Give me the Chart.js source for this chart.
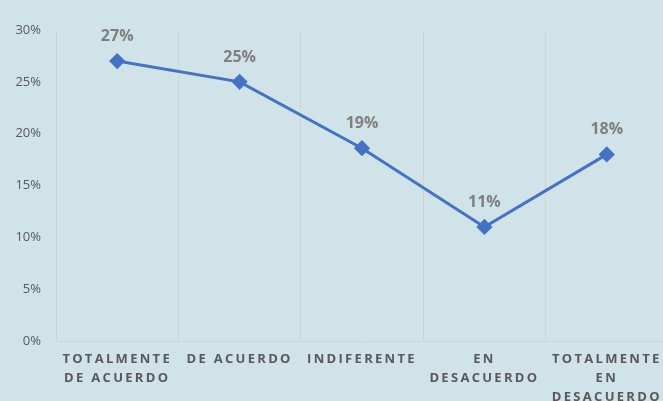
<!DOCTYPE html>
<html>
<head>
<meta charset="utf-8">
<script src="https://cdn.jsdelivr.net/npm/chart.js@4/dist/chart.umd.min.js"></script>
<style>
  html, body { margin: 0; padding: 0; overflow: hidden; background: #d0e3e8; }
  #wrap { position: relative; width: 680px; height: 420px; }
</style>
</head>
<body>
<div id="wrap"><canvas id="c"></canvas></div>
<script>
// datos
const categorias = [
  ["TOTALMENTE", "DE ACUERDO"],
  ["DE ACUERDO"],
  ["INDIFERENTE"],
  ["EN", "DESACUERDO"],
  ["TOTALMENTE", "EN", "DESACUERDO"]
];
const porcentajes = [27, 25, 18.6, 11, 18];
const ticksY = [0, 5, 10, 15, 20, 25, 30];

const AZUL = "#4472c4", GRIS = "#595959", REJILLA = "#d3d3d3";

// etiquetas de datos encima de cada punto
const etiquetas = {
  id: "etiquetas",
  afterDatasetsDraw(chart) {
    const ctx = chart.ctx, meta = chart.getDatasetMeta(0);
    ctx.save();
    ctx.font = "bold 16px 'Open Sans'";
    ctx.fillStyle = "#7f7f7f";
    ctx.textAlign = "center";
    ctx.textBaseline = "alphabetic";
    meta.data.forEach((p, i) => ctx.fillText(Math.round(porcentajes[i]) + "%", p.x, p.y - 20));
    ctx.restore();
  }
};

// espaciado de letras en las etiquetas del eje X
const espaciado = {
  id: "espaciado",
  afterUpdate(chart) {
    const xs = chart.scales.x;
    if (!xs || xs._espaciado) return;
    const orig = xs.drawLabels.bind(xs);
    xs.drawLabels = function (a) { const c = this.ctx; c.save(); c.letterSpacing = "2.3px"; orig(a); c.restore(); };
    xs._espaciado = true;
  }
};

new Chart(document.getElementById("c"), {
  type: "line",
  data: {
    labels: categorias,
    datasets: [{
      data: porcentajes,
      borderColor: AZUL, backgroundColor: AZUL, borderWidth: 3,
      pointStyle: "rectRot", pointRadius: 6, pointHoverRadius: 6,
      pointBackgroundColor: AZUL, pointBorderColor: AZUL, tension: 0
    }]
  },
  options: {
    responsive: true, maintainAspectRatio: false, animation: false,
    layout: { padding: { top: 30, right: 12, left: 0, bottom: 0 } },
    plugins: { legend: { display: false }, tooltip: { enabled: false } },
    scales: {
      x: {
        offset: true,
        grid: { offset: true, color: REJILLA, lineWidth: 1, drawTicks: false },
        border: { display: true, color: REJILLA, width: 1 },
        ticks: { color: GRIS, font: { family: "'Open Sans'", size: 13, weight: "bold", lineHeight: 1.45 }, padding: 9, maxRotation: 0, autoSkip: false },
        afterFit(s) { s.height = 79; }
      },
      y: {
        min: 0, max: 30,
        afterBuildTicks(s) { s.ticks = ticksY.map(v => ({ value: v })); },
        grid: { display: false, drawTicks: false },
        border: { display: false },
        ticks: { color: GRIS, font: { family: "'Open Sans'", size: 13 }, padding: 15, callback: v => v + "%" },
        afterFit(s) { s.width = 56; }
      }
    }
  },
  plugins: [etiquetas, espaciado]
});
</script>
</body>
</html>
